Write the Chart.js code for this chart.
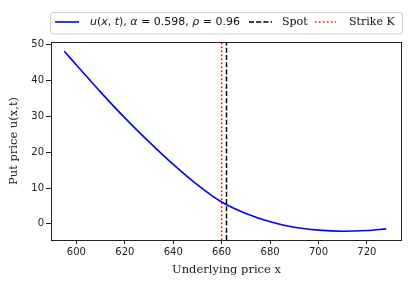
<!DOCTYPE html>
<html lang="en">
<head>
<meta charset="UTF-8" />
<title>Put price vs underlying</title>
<script src="https://cdn.jsdelivr.net/npm/chart.js"></script>
<style>
  body { margin: 0; padding: 0; background: #fff; }
  #wrap { width: 412px; height: 282px; }
</style>
</head>
<body>
<div id="wrap"><canvas id="putChart" width="412" height="282"></canvas></div>
<script>
// values
const prices = [595, 600, 610, 620, 630, 640, 650, 660, 670, 680, 690, 700, 710, 720, 728];
const putValues = [48.2, 44.4, 36.8, 29.6, 22.9, 16.6, 10.9, 6.1, 2.9, 0.6, -0.95, -1.75, -2.05, -1.85, -1.4];
const spotPrice = 662;
const strikePrice = 660;
const xTicks = [600, 620, 640, 660, 680, 700, 720];
const yTicks = [0, 10, 20, 30, 40, 50];
const xRange = [589.5, 734.5];
const yRange = [-4.5, 50.8];

const serif = "'DejaVu Serif', serif";
const sans = "'DejaVu Sans', sans-serif";

// legend text pieces: [text, italic?]
const curveLabel = [["u", true], ["(", false], ["x", true], [", ", false], ["t", true],
  ["), ", false], ["α", true], [" = 0.598, ", false], ["ρ", true], [" = 0.96", false]];
const spotLabel = "Spot";
const strikeLabel = "Strike K";

// frame around the plot + boxed legend above it
const framePlugin = {
  id: "frame",
  afterDatasetsDraw(chart) {
    const { ctx, chartArea: a } = chart;
    ctx.save();
    ctx.strokeStyle = "#222";
    ctx.lineWidth = 1;
    ctx.strokeRect(Math.round(a.left) + 0.5, Math.round(a.top) + 0.5,
      Math.round(a.right - a.left) - 1, Math.round(a.bottom - a.top));
    ctx.restore();
  },
  afterDraw(chart) {
    const ctx = chart.ctx;
    const cy = 22;
    ctx.save();
    // legend box
    ctx.beginPath();
    ctx.roundRect(50.5, 12.5, 352, 21.5, 2.5);
    ctx.fillStyle = "rgba(255,255,255,0.8)";
    ctx.fill();
    ctx.strokeStyle = "#d0d0d0";
    ctx.lineWidth = 1;
    ctx.stroke();

    const handle = (x1, x2, color, dash) => {
      ctx.beginPath();
      ctx.setLineDash(dash);
      ctx.strokeStyle = color;
      ctx.lineWidth = 1.6;
      ctx.moveTo(x1, cy);
      ctx.lineTo(x2, cy);
      ctx.stroke();
      ctx.setLineDash([]);
    };
    ctx.textBaseline = "middle";
    ctx.fillStyle = "#111";

    handle(55, 79, "#0000ff", []);
    let x = 90;
    curveLabel.forEach(([t, it]) => {
      ctx.font = (it ? "italic " : "") + "11px " + sans;
      ctx.fillText(t, x, cy + 0.5);
      x += ctx.measureText(t).width;
    });

    handle(249, 272, "#000", [5, 2.2]);
    ctx.font = "11px " + serif;
    ctx.fillText(spotLabel, 282, cy + 0.5);

    handle(315, 336, "#ff0000", [1.5, 2.5]);
    ctx.fillText(strikeLabel, 349, cy + 0.5);
    ctx.restore();
  }
};

const ctx = document.getElementById("putChart").getContext("2d");

new Chart(ctx, {
  type: "line",
  data: {
    datasets: [
      {
        data: prices.map((p, i) => ({ x: p, y: putValues[i] })),
        borderColor: "#0000ff",
        borderWidth: 1.6,
        pointRadius: 0,
        cubicInterpolationMode: "monotone",
        fill: false
      },
      {
        data: [{ x: spotPrice, y: yRange[0] }, { x: spotPrice, y: yRange[1] }],
        borderColor: "#000",
        borderWidth: 1.5,
        borderDash: [5, 2.2],
        pointRadius: 0
      },
      {
        data: [{ x: strikePrice, y: yRange[0] }, { x: strikePrice, y: yRange[1] }],
        borderColor: "#ff0000",
        borderWidth: 1.5,
        borderDash: [1.5, 2.5],
        pointRadius: 0
      }
    ]
  },
  options: {
    responsive: false,
    animation: false,
    devicePixelRatio: 1,
    layout: { padding: { left: 0, right: 10, top: 42, bottom: 0 } },
    plugins: { legend: { display: false }, tooltip: { enabled: false } },
    scales: {
      x: {
        type: "linear",
        min: xRange[0],
        max: xRange[1],
        afterBuildTicks: (s) => { s.ticks = xTicks.map((v) => ({ value: v })); },
        afterFit: (s) => { s.height = 42; },
        grid: { drawOnChartArea: false, drawTicks: true, tickLength: 4, color: "#222" },
        border: { display: false },
        ticks: { color: "#222", font: { family: sans, size: 10 }, padding: 2 },
        title: { display: true, text: "Underlying price x", color: "#222",
          font: { family: serif, size: 11.5 }, padding: { top: 0, bottom: 5 } }
      },
      y: {
        min: yRange[0],
        max: yRange[1],
        afterBuildTicks: (s) => { s.ticks = yTicks.map((v) => ({ value: v })); },
        afterFit: (s) => { s.width = 51; },
        grid: { drawOnChartArea: false, drawTicks: true, tickLength: 5, color: "#222" },
        border: { display: false },
        ticks: { color: "#222", font: { family: sans, size: 10 }, padding: 2 },
        title: { display: true, text: "Put price u(x,t)", color: "#222",
          font: { family: serif, size: 11.5 }, padding: { top: 7, bottom: 0 } }
      }
    }
  },
  plugins: [framePlugin]
});
</script>
</body>
</html>
